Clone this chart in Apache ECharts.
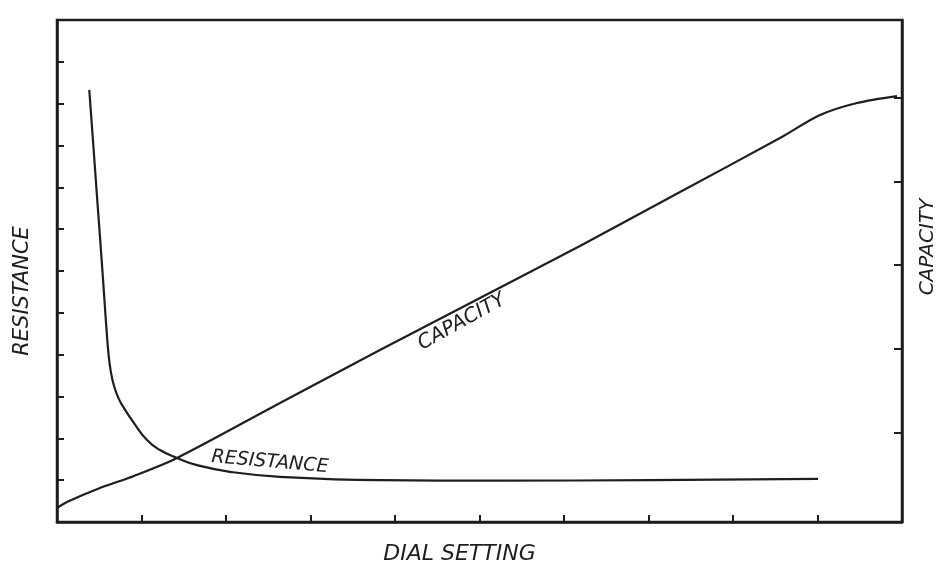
<!DOCTYPE html>
<html>
<head>
<meta charset="utf-8">
<script src="https://cdn.jsdelivr.net/npm/echarts@6/dist/echarts.min.js"></script>
<style>
  html, body { margin: 0; padding: 0; background: #fff; }
  #chart { width: 944px; height: 563px; }
</style>
</head>
<body>
<div id="chart"></div>
<script>
// dial setting (x) and resistance (left axis units)
const resistanceX = [0.382, 0.430, 0.480, 0.530, 0.565, 0.588, 0.608, 0.635, 0.675, 0.730, 0.800, 0.899, 1.065, 1.219, 1.420, 1.657, 2.047, 2.639, 3.822, 5.243, 7.018, 9.006];
const resistanceY = [10.33, 9.00, 7.60, 6.22, 5.20, 4.55, 4.05, 3.62, 3.25, 2.95, 2.70, 2.40, 1.96, 1.72, 1.53, 1.36, 1.20, 1.08, 1.00, 0.99, 1.00, 1.03];
// dial setting (x) and capacity (right axis units)
const capacityX = [0, 0.118, 0.509, 0.911, 1.420, 2.639, 3.822, 5.006, 6.189, 7.373, 8.556, 9.030, 9.467, 9.941];
const capacityY = [0.097, 0.169, 0.336, 0.480, 0.695, 1.352, 1.986, 2.607, 3.229, 3.874, 4.519, 4.794, 4.938, 5.021];
// right-hand tick marks
const capacityTicks = [1, 2, 3, 4, 5];

const ink = '#1e1e1e';
const hand = { fontFamily: 'DejaVu Sans', fontStyle: 'italic', color: ink };

function pairs(xs, ys) {
  return xs.map((x, i) => [x, ys[i]]);
}

const chart = echarts.init(document.getElementById('chart'));
chart.setOption({
  animation: false,
  backgroundColor: '#fff',
  grid: {
    left: 57, right: 42, top: 20, bottom: 41,
    outerBoundsMode: 'none', containLabel: false,
    show: true, borderColor: ink, borderWidth: 2.5
  },
  xAxis: {
    type: 'value', min: 0, max: 10, interval: 1,
    name: 'DIAL SETTING', nameLocation: 'middle', nameGap: 21,
    nameTextStyle: Object.assign({ fontSize: 22, padding: [0, 40, 0, 0] }, hand),
    axisLine: { show: true, lineStyle: { color: ink, width: 2.5 } },
    axisTick: { show: true, inside: true, length: 7, lineStyle: { color: ink, width: 2 } },
    axisLabel: { show: false },
    splitLine: { show: false }
  },
  yAxis: [
    {
      type: 'value', min: 0, max: 12, interval: 1,
      name: 'RESISTANCE', nameLocation: 'middle', nameGap: 24, nameRotate: 90,
      nameTextStyle: Object.assign({ fontSize: 21, padding: [0, 40, 0, 0] }, hand),
      axisLine: { show: true, lineStyle: { color: ink, width: 2.5 } },
      axisTick: { show: true, inside: true, length: 7, lineStyle: { color: ink, width: 2 } },
      axisLabel: { show: false },
      splitLine: { show: false }
    },
    {
      type: 'value', min: -0.07, max: 5.93, position: 'right',
      name: 'CAPACITY', nameLocation: 'middle', nameGap: 16, nameRotate: 90,
      nameTextStyle: Object.assign({ fontSize: 20, padding: [0, 0, 0, 48] }, hand),
      axisLine: { show: true, lineStyle: { color: ink, width: 2.5 } },
      axisTick: { show: true, inside: true, length: 8, customValues: capacityTicks, lineStyle: { color: ink, width: 2 } },
      axisLabel: { show: false, customValues: capacityTicks },
      splitLine: { show: false }
    }
  ],
  series: [
    {
      name: 'RESISTANCE', type: 'line', yAxisIndex: 0,
      data: pairs(resistanceX, resistanceY),
      smooth: 0.5, showSymbol: false,
      lineStyle: { color: ink, width: 2.2 },
      markPoint: {
        symbol: 'circle', symbolSize: 0,
        data: [{ coord: [2.52, 1.43] }],
        label: Object.assign({ show: true, formatter: 'RESISTANCE', fontSize: 19, rotate: -5, position: 'inside' }, hand)
      }
    },
    {
      name: 'CAPACITY', type: 'line', yAxisIndex: 1,
      data: pairs(capacityX, capacityY),
      smooth: 0.3, showSymbol: false,
      lineStyle: { color: ink, width: 2.2 },
      markPoint: {
        symbol: 'circle', symbolSize: 0,
        data: [{ coord: [4.79, 2.32] }],
        label: Object.assign({ show: true, formatter: 'CAPACITY', fontSize: 20, rotate: 29, position: 'inside' }, hand)
      }
    }
  ]
});
</script>
</body>
</html>
